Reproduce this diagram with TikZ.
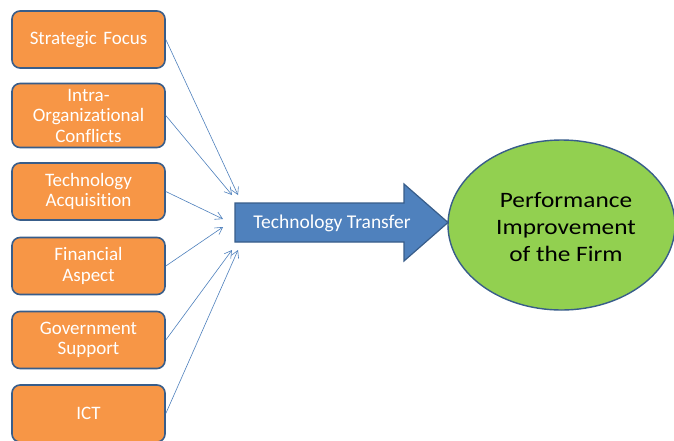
\documentclass[tikz,border=0pt]{standalone}
\usepackage{fontspec}
\setmainfont{Carlito}[Ligatures=NoCommon]
\newfontfamily\widefont{Carlito}[FakeStretch=1.15,Ligatures=NoCommon]
\usetikzlibrary{arrows.meta,shapes.geometric}
\definecolor{boxorange}{HTML}{F79646}
\definecolor{edgeblue}{HTML}{385D8A}
\definecolor{arrowblue}{HTML}{4F81BD}
\definecolor{leafgreen}{HTML}{92D050}
\tikzset{
  factor/.style={draw=edgeblue, line width=1.6pt, fill=boxorange, rounded corners=8pt,
    minimum width=153pt, minimum height=57pt, inner sep=2pt, text width=146pt,
    align=center, text=white, font=\fontsize{19}{20.5}\selectfont},
  link/.style={draw=arrowblue, line width=0.6pt, -{Straight Barb[length=7pt,width=8pt,line width=0.6pt]}},
}
\begin{document}
\begin{tikzpicture}[x=1pt,y=-1pt]
\clip (0,0) rectangle (674,440);
\fill[white] (0,0) rectangle (674,440);

% influencing factors
\node[factor] (f1) at (88.5,39.5) {Strategic Focus};
\node[factor, minimum height=64pt] (f2) at (88.5,115.5) {Intra-\\Organizational\\Conflicts};
\node[factor] (f3) at (88.5,191.5) {Technology\\Acquisition};
\node[factor] (f4) at (88.5,266) {Financial\\Aspect};
\node[factor] (f5) at (88.5,340) {Government\\Support};
\node[factor] (f6) at (88.5,413.5) {ICT};

% block arrow for technology transfer
\draw[draw=edgeblue, line width=1.2pt, fill=arrowblue, line join=miter]
  (235,203) -- (404,203) -- (404,184) -- (448,222.5) -- (404,261) -- (404,242)
  -- (235,242) -- cycle;
\node[text=white, font=\fontsize{19.5}{22}\selectfont] (tt) at (332,223) {Technology Transfer};

% end points of the links on the arrow's tail
\coordinate (e1) at (238,195);
\coordinate (e2) at (232,195);
\coordinate (e3) at (223,219);
\coordinate (e4) at (223,227);
\coordinate (e5) at (232,250);
\coordinate (e6) at (238,250);

\draw[link] (f1.east) -- (e1);
\draw[link] (f2.east) -- (e2);
\draw[link] (f3.east) -- (e3);
\draw[link] (f4.east) -- (e4);
\draw[link] (f5.east) -- (e5);
\draw[link] (f6.east) -- (e6);

% outcome
\node[ellipse, draw=edgeblue, line width=1.4pt, fill=leafgreen,
  minimum width=227pt, minimum height=170pt] (perf) at (561.5,225) {};
\node[align=center, font=\widefont\fontsize{22}{27}\selectfont] (perftext) at (566,227)
  {Performance\\Improvement\\of the Firm};
\end{tikzpicture}
\end{document}
